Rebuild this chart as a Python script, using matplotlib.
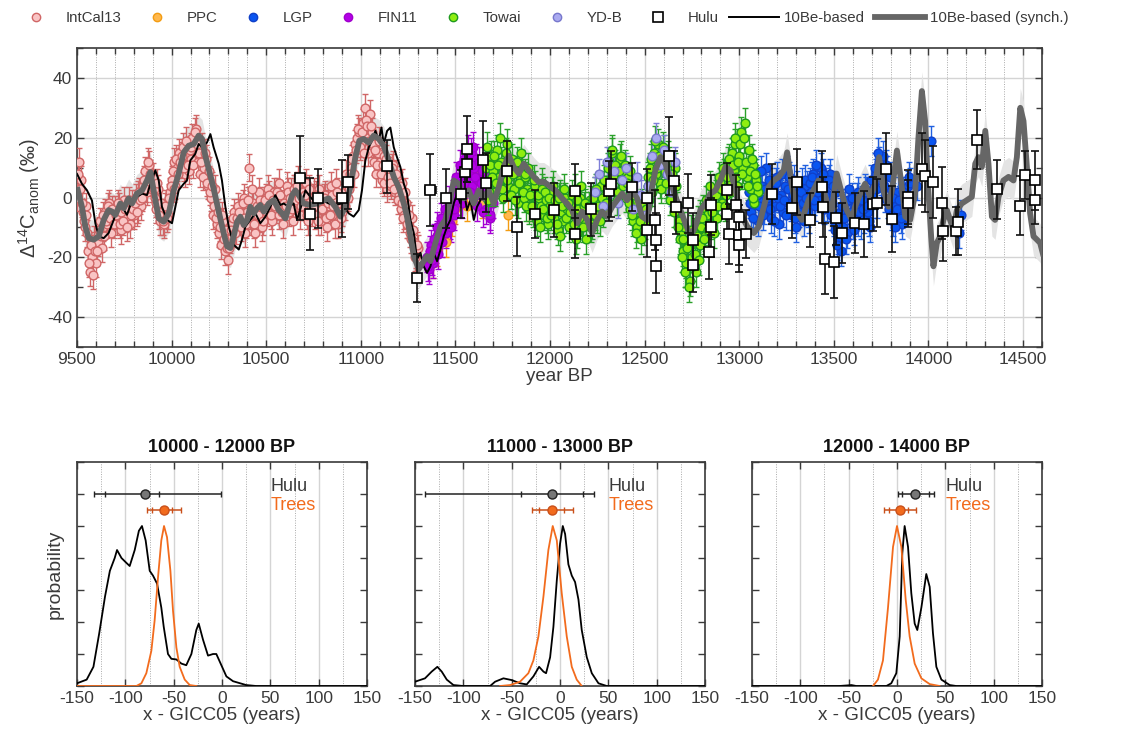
import numpy as np
import matplotlib
matplotlib.use("Agg")
import matplotlib.pyplot as plt
from matplotlib.lines import Line2D
from matplotlib.ticker import MultipleLocator, NullFormatter

plt.rcParams['font.family'] = ['Liberation Sans', 'DejaVu Sans']
plt.rcParams['mathtext.fontset'] = 'custom'
plt.rcParams['mathtext.rm'] = 'Liberation Sans'
plt.rcParams['mathtext.it'] = 'Liberation Sans'
plt.rcParams['axes.unicode_minus'] = False

# ---------------- data: top panel ----------------
intcal_years = np.arange(9500, 11301, 10)
intcal_vals = [0, 12, 6, -5, -10, -3, -18, -25, -20, -14,
               -22, -15, -8, -17, -10, -5, -9, -2, -12, -6,
               -4, -8, -3, -11, -6, -1, -7, -4, -9, -2,
               -6, 0, -4, 2, -3, 4, 9, 2, 11, 5,
               7, 0, -4, 3, -8, -5, -9, -2, -6, 2,
               6, 12, 4, 10, 15, 11, 17, 8, 14, 9,
               13, 20, 16, 23, 12, 8, 17, 10, 13, 4,
               6, 0, -6, 3, -9, -12, -16, -8, -18, -13,
               -21, -14, -9, -5, -11, -3, -8, -6, 0, -12,
               -5, 10, -8, -2, -12, -3, 2, -7, -10, -4,
               0, 3, -2, -8, 2, -4, 0, 5, -3, -9,
               0, 4, -5, 2, -8, 3, -2, 6, -6, 0,
               -3, 5, -8, 0, -5, 2, -6, -2, 3, -8,
               -4, 1, -10, -3, 4, -6, 0, 5, -9, -2,
               -5, 2, 8, 0, 5, 10, 14, 18, 20, 22,
               18, 25, 30, 20, 15, 28, 22, 12, 8, 15,
               12, 6, 14, 8, 3, 9, 4, 11, 2, 6,
               1, -4, 5, -6, -2, -9, -12, -7, -15, -19,
               -17]
intcal_years_b = np.arange(9505, 11296, 10)
intcal_vals_b = [8, 3, -2, -8, -6, -12, -22, -16, -26, -18,
                 -18, -11, -13, -6, -13, -8, -3, -7, -4, -9,
                 -6, -2, -9, -5, -8, -4, -10, -1, -6, -4,
                 -2, -5, 1, -1, 0, 6, 3, 12, 8, 3,
                 3, -2, 5, -6, -2, -8, -3, -7, 0, 4,
                 9, 3, 13, 8, 12, 14, 10, 19, 11, 16,
                 17, 11, 22, 18, 15, 12, 7, 15, 5, 9,
                 2, 4, -3, -7, -5, -10, -6, -14, -11, -17,
                 -17, -11, -7, -12, -7, -5, -10, -2, -7, -9,
                 -1, -6, 3, -9, -6, -6, -1, -3, -8, -1,
                 -5, 1, -6, -1, -3, 2, -6, 1, -5, -2,
                 -3, 2, 0, -4, 3, -1, 4, 0, -3, 2,
                 1, -6, 3, -3, 0, -3, 1, -8, -1, -4,
                 0, -7, -2, -6, 1, -3, -9, 2, -5, -7,
                 0, -3, 4, 3, 8, 13, 8, 16, 23, 17,
                 22, 15, 26, 24, 19, 24, 18, 16, 11, 19,
                 8, 11, 5, 13, 7, 5, 10, 3, 8, -1,
                 4, -2, -7, 2, -9, -6, -14, -11, -20, -16]
intcal_err = 4.5

ppc_years = [11380, 11400, 11420, 11450, 11480, 11500, 11520, 11560, 11600,
             11640, 11690, 11720, 11780, 11850, 11890]
ppc_vals = [-22, -18, -12, -15, -8, -4, 3, -3, 8, -2, 12, 5, -6, 2, -3]
ppc_err = 5

fin_years = np.arange(11350, 11701, 10)
fin_vals = [-20, -24, -16, -22, -18, -13, -19, -11, -15, -8,
            -12, -5, -9, -2, -6, 3, -1, 6, 2, 9,
            5, 12, 8, 15, 4, 10, 13, 6, 1, 9,
            3, -4, 7, -7, 0, -2]
fin_years_b = np.arange(11355, 11696, 10)
fin_vals_b = [-23, -18, -21, -14, -17, -10, -14, -7, -11, -4,
              -8, -1, -10, 1, -4, 7, 3, 11, -2, 13,
              8, 16, 2, 11, 17, 7, -3, 12, 5, -5,
              6, 0, 10, -6, 4]
fin_err = 5

towai_years = np.arange(11660, 13101, 10)
towai_vals = [10, -1, 6, 14,
              9, 2, 16, 7, 12, 0, 10, 18, 4, 8,
              13, 3, 9, -2, 6, 11, 0, 7, 3, -4,
              2, -5, 4, -8, 0, -3, 5, -6, -1, -9,
              -3, 2, -7, -2, -11, 1, -5, -8, 0, -4,
              -10, -2, -6, 3, -12, -4, 0, -8, -3, -14,
              -6, -1, -9, -4, 2, -7, -2, 4, -5, 1,
              6, 12, 3, 15, 8, 10, 2, 13, 5, 9,
              0, 7, -4, 3, -8, -2, -10, -5, -14, -6,
              -9, -3, 4, 10, 2, 15, 8, 18, 5, 12,
              16, 9, 3, 12, 6, 0, 10, -3, -8, -12,
              -18, -10, -22, -15, -28, -20, -12, -25, -8, -16,
              -10, -4, -13, -6, 0, -9, -3, 3, -7, 2,
              5, -2, 8, 1, 12, 6, 15, 9, 18, 4,
              14, 22, 10, 25, 7, 16, 3, 11, -2, 6,
              2]
towai_years_b = np.arange(11665, 13096, 10)
towai_vals_b = [17, 2, 11, 7,
                14, 5, 11, 20, 3, 9, 15, 6, 12, 1,
                8, -1, 12, 5, 15, 2, 8, -3, 10, 1,
                -3, 6, -6, 1, -10, 3, -4, 2, -7, 0,
                -6, 4, -1, -9, 0, -13, -3, 3, -7, -2,
                -5, 1, -9, -14, -1, -7, 4, -10, -2, -6,
                -3, -10, 0, -6, 3, -3, -8, 0, 6, -2,
                10, 4, 16, 7, 11, -1, 9, 14, 4, 11,
                5, -2, 9, -6, 1, -12, -4, -8, -2, -11,
                -4, 7, -1, 13, 6, 19, 10, 14, 3, 17,
                11, 5, 14, -1, 8, -5, 4, -10, -14, -20,
                -14, -25, -17, -30, -11, -23, -19, -13, -21, -6,
                -7, -14, -1, -11, 4, -5, -12, 1, -3, 7,
                3, 10, -3, 7, 13, 2, 11, 20, 7, 12,
                18, 8, 20, 12, 4, 9, 13, 0, 8, 4]
towai_err = 5

ydb_years = np.arange(12240, 12661, 20)
ydb_vals = [2, 8, -3, 12, 5, 9, -2, 6, 10, 3, -4, 7, 1, -6, 4, 14, 20, 11, 16, 8, 2, 12]
ydb_err = 5

lgp_years = list(np.arange(13050, 13901, 10)) + [13940, 14015, 14150, 14160, 14170]
lgp_vals = [2, -5, 6, -2, 8, -8, 0, 4, -4, 10,
            -1, 5, -7, 3, -3, 7, -9, 1, -5, 4,
            9, -2, 3, -6, 6, -10, 0, -4, 5, -8,
            -2, 4, -7, 2, 8, -3, 6, 0, 10, 3,
            -4, 5, 1, 8, -2, -8, 2, -14, -5, -18,
            -10, -2, -12, 3, -6, -9, -3, 0, -8, -4,
            -1, -7, 2, -5, -10, 1, 4, 8, -2, 12,
            6, 14, 0, 9, -4, 3, -8, -2, -6, 2,
            -5, -9, 1, -3, 4, 5,
            4, 19, -8, -12, -6]
lgp_years_b = np.arange(13055, 13896, 10)
lgp_vals_b = [-2, 4, -7, 5, 1, -3, 9, -6, 3, 0,
              6, -4, 2, -8, 5, 0, -3, 8, -1, -6,
              3, 7, -3, 1, -7, 4, -5, 2, -2, 6,
              0, -5, 5, 7, -1, 11, 2, 7, 4, 8,
              1, -3, 6, -6, 4, -11, -16, -7, -12, -3,
              -7, -14, -1, -5, 0, -11, -6, 2, -5, -9,
              -4, 3, -3, -8, 6, -2, 10, 3, 15, 7,
              10, 4, 11, -2, 7, -6, 0, -10, -4, -1,
              -7, 2, -4, 0, 7]
lgp_err = 5

hulu_years = [10679, 10732, 10772, 10902, 10934, 11139, 11299, 11368, 11452, 11527,
              11550, 11563, 11563, 11645, 11663, 11772, 11825, 11923, 12020, 12130,
              12132, 12215, 12314, 12323, 12432, 12511, 12511, 12552, 12560, 12560,
              12626, 12656, 12666, 12731, 12758, 12758, 12842, 12851, 12851, 12934,
              12934, 12948, 12983, 12999, 12999, 12999, 13036, 13172, 13277, 13304,
              13374, 13436, 13441, 13453, 13501, 13510, 13541, 13612, 13661, 13709,
              13726, 13774, 13806, 13894, 13894, 13964, 13982, 14026, 14070, 14079,
              14146, 14158, 14258, 14361, 14484, 14511, 14563, 14563]
hulu_vals = [6.6, -5.5, -0.3, -0.3, 5.2, 10.4, -27, 2.4, -0.3, 1.3,
             8.4, 16.3, 11.3, 12.5, 5.0, 8.8, -9.7, -5.4, -4.3, -12.1,
             2.2, -4, 2.2, 4.4, 3.5, -0.3, -11, -7.5, -14.1, -23,
             14, 5.5, -3.3, -2, -14.3, -22.6, -18.2, -2.5, -10, 2.4,
             -5.6, -12.1, -2.4, -6.4, -12.5, -15.8, -12.2, 1.3, -3.6, 5.2,
             -7.5, 3.5, -3.1, -20.4, -21.5, -7, -11.9, -8.6, -8.9, -2.3,
             -1.8, 9.6, -7.2, 0.2, -2, 9.6, 7.1, 5.2, -1.8, -11.3,
             -11.3, -8.1, 19.4, 2.7, -2.7, 7.4, 5.7, -0.7]
hulu_yerr = [14, 12, 10, 13, 9, 9, 8, 12, 10, 8,
             7, 11, 6, 13, 10, 10, 10, 8, 9, 8,
             9, 9, 10, 11, 8, 10, 9, 10, 9, 9,
             13, 10, 9, 10, 9, 9, 9, 10, 10, 9,
             8, 10, 10, 10, 10, 9, 8, 10, 10, 11,
             9, 12, 10, 12, 12, 9, 10, 10, 11, 9,
             8, 12, 11, 9, 8, 12, 12, 12, 12, 10,
             8, 11, 10, 10, 10, 8, 10, 8]
hulu_xerr = [28, 20, 12, 10, 15, 12, 10, 30, 10, 10,
             10, 12, 10, 12, 10, 10, 10, 10, 10, 10,
             10, 12, 10, 12, 10, 10, 10, 10, 10, 10,
             15, 10, 10, 10, 10, 10, 10, 10, 12, 12,
             10, 10, 10, 10, 10, 10, 10, 10, 10, 10,
             10, 10, 10, 18, 12, 10, 10, 12, 12, 12,
             10, 12, 12, 12, 10, 12, 12, 14, 12, 14,
             14, 12, 10, 12, 15, 10, 10, 10]

be_years = [9500, 9526, 9553, 9579, 9597, 9615, 9641, 9667, 9694, 9711, 9738, 9764,
            9791, 9817, 9844, 9870, 9888, 9914, 9932, 9949, 9976, 10002, 10020, 10037,
            10064, 10081, 10099, 10125, 10143, 10161, 10187, 10205, 10222, 10249, 10266,
            10284, 10302, 10328, 10355, 10372, 10390, 10416, 10443, 10469, 10496, 10522,
            10548, 10575, 10592, 10619, 10645, 10663, 10684, 10707, 10733, 10769, 10800,
            10830, 10865, 10901, 10936, 10962, 10989, 11006, 11024, 11042, 11059, 11077,
            11095, 11109, 11121, 11139, 11156, 11174, 11191, 11209, 11227, 11244, 11262,
            11280, 11297, 11315, 11332, 11350, 11368, 11385, 11403, 11421, 11438, 11456,
            11473, 11491, 11509, 11526, 11544, 11561, 11579, 11597, 11614, 11632]
be_vals = [7.9, 4.6, 2.4, -1, -8.6, -13, -13.6, -11.9, -7.5, -4.2, -3.1, -5.8,
           -0.9, 0.2, 1.3, 0.8, 4.6, 9.1, 5.7, -3.1, -7.5, -8.6, -3.1, 2.4,
           4.6, 5.7, 12.4, 14.6, 17.9, 16.8, 18.4, 21.2, 16.8, 11.3, 5.7,
           -3.1, -9.7, -15.8, -17.4, -14.1, -9.7, -7.5, -5.3, -8.6, -6.4, -3.1,
           0.8, -2.5, -2, -3.1, -2, -7.5, -3.1, 2.4, 0.2, -2.5, -1,
           -2, -2.5, -2, -5.3, -6.4, -4.2, 2.4, 12.4, 16.8, 19, 22.3,
           19, 23.4, 17.9, 22.3, 23.4, 16.8, 13.5, 10.2, 4.6, 1.3, -7.5,
           -11.9, -20.7, -18.5, -23, -25.2, -23, -18.5, -21.3, -17.4, -13, -9.7,
           -7.5, -2, 1.3, -2, 2.4, -4.2, -0.9, -7.5, -3.1, -0.9]

syn_years = [9500, 9526, 9544, 9562, 9588, 9615, 9641, 9667, 9685, 9703, 9729, 9747,
             9773, 9791, 9817, 9844, 9870, 9888, 9905, 9932, 9958, 9985, 10011, 10037,
             10064, 10090, 10117, 10143, 10161, 10178, 10196, 10222, 10249, 10275, 10293,
             10311, 10328, 10346, 10363, 10381, 10399, 10416, 10434, 10451, 10469, 10487,
             10513, 10540, 10566, 10584, 10601, 10619, 10637, 10654, 10672, 10698, 10733,
             10769, 10800, 10830, 10865, 10892, 10918, 10945, 10971, 10992, 11015, 11042,
             11068, 11095, 11121, 11147, 11174, 11200, 11227, 11244, 11262, 11280, 11306,
             11332, 11350, 11368, 11394, 11421, 11447, 11473, 11491, 11517, 11544, 11570,
             11597, 11623, 11650, 11676, 11702, 11729, 11755, 11782, 11808, 11835, 11861,
             11887, 11914, 11940, 11967, 11993, 12028, 12064, 12090, 12116, 12143, 12169,
             12196, 12222, 12249, 12275, 12301, 12328, 12354, 12381, 12407, 12434, 12460,
             12486, 12513, 12539, 12557, 12583, 12610, 12636, 12663, 12689, 12715, 12742,
             12768, 12795, 12821, 12848, 12874, 12900, 12927, 12953, 12980, 13006, 13042,
             13077, 13103, 13130, 13156, 13182, 13209, 13235, 13253, 13279, 13306, 13332,
             13348, 13366, 13392, 13418, 13445, 13471, 13489, 13515, 13542, 13568, 13595,
             13612, 13639, 13665, 13692, 13718, 13739, 13762, 13789, 13810, 13833, 13859,
             13877, 13903, 13929, 13947, 13965, 13982, 13996, 14014, 14026, 14044, 14062,
             14079, 14097, 14114, 14132, 14150, 14176, 14203, 14229, 14247, 14264, 14282,
             14300, 14317, 14335, 14352, 14370, 14396, 14423, 14449, 14467, 14485, 14502,
             14520, 14537, 14555, 14573, 14590, 14608]
syn_vals = [3.5, -3.1, -9.7, -13.6, -14.1, -13, -7.5, -4.2, -4.7, -5.8, -2, -3.6,
            -0.3, -2, 1.3, 2.4, 5.7, 8.5, 2.4, -7, -8.1, -5.3, 2.4, 7.9,
            15.1, 17.3, 17.9, 20.7, 19.6, 14, 9.6, 3, -4.7, -11.9, -16.3,
            -16.9, -13, -8.1, -6.4, -9.2, -7.5, -3.1, -5.3, -3.6, -2.5, -4.7,
            -2, -0.9, -4.2, -5.3, -7, -3.1, 0.8, 2.4, 0.8, -2, -2.5,
            -2, -1, -0.3, -3.1, -6.4, -3.1, 3.5, 13.5, 19, 19.6, 18.4,
            20.7, 19.6, 17.3, 12.4, 6.9, 3.5, -2, -6.4, -13, -19.6, -24,
            -21.3, -19.6, -21.3, -15.2, -9.7, -7.5, -0.9, 5.7, 4.6, -0.3, 2.4,
            -2, 2.4, -0.3, 2.4, -2, 3.5, 10.2, 14, 10.2, 8, 11.3,
            9.1, 6.9, 5.2, 5.2, 4.1, 2.4, -0.3, -2, -4.2, -8.6, -4.7,
            -7.5, -11.9, -7.5, -4.7, -6.4, -3.1, -0.9, 1.3, -0.9, 2.4, -0.3,
            -6.4, -7.5, 3.5, 9.1, 13.5, 11.3, 5.7, 0.2, -4.2, -8.6, -13,
            -9.7, -4.2, -2, 1.3, 2.4, 5.7, 10.2, 9.1, 2.4, -5.3, -9.7,
            -11.9, -9.7, -3.1, 3.5, 5.7, 6.9, 9.1, 15.1, 3.5, -4.7, -7.5,
            -4.2, -0.9, 2.4, 5.7, 2.4, -3.1, -4.2, 8, 1.3, -4.2, -7.5,
            -3.1, 1.3, 4.6, 0.2, 4.6, 13.5, 2.4, -3.1, 3.5, 15.7, 3.5,
            -6.4, -7.5, 1.3, 20.1, 35.6, 25.6, 5.7, -13, -23, -15.2, -13,
            -7.5, -4.2, -7.5, -10.8, -4.2, -2, -0.9, 0.2, 11.3, 13.5, 10.2,
            22.3, 11.3, -6.4, -7.5, 0.2, 5.7, 6.9, 5.7, 13.5, 30, 25.6,
            10.2, -5.3, -13, -14.1, -15.2, -19.6]
syn_band = 6.5

# ---------------- data: bottom panels ----------------
panel_titles = ["10000 - 12000 BP", "11000 - 13000 BP", "12000 - 14000 BP"]

hulu_pdf_x = [
    [-150, -140, -133, -127, -121, -116, -111, -108.6, -104, -99, -95.5, -90.3, -86, -82.8,
     -79, -74.8, -71.4, -67.2, -62.8, -60.3, -55.9, -52.4, -47.2, -42, -37, -31.7, -26.6,
     -24.1, -19.7, -14.5, -9.3, -5.9, -0.7, 4.5, 11.4, 25, 35.5, 150],
    [-150, -139.7, -132.8, -126.9, -122.4, -117.2, -110.3, -100, -72.4, -67.2, -58.6, -50,
     -41.4, -34.5, -27.6, -21.7, -17.2, -14.5, -10.3, -6.9, -3.4, 0, 2.8, 5.2, 8.6, 12.1,
     15.5, 19, 22.4, 27.6, 32.8, 39.7, 48.3, 150],
    [-150, -60, -50.7, -47.2, -42, -11, -5.9, -0.7, 2.8, 5.5, 7.9, 11.4, 14.8, 18.3, 21,
     25.2, 30.3, 33.8, 37.2, 40.7, 45.9, 54.5, 61.4, 150],
]
hulu_pdf_y = [
    [0.017, 0.04, 0.12, 0.33, 0.56, 0.72, 0.80, 0.85, 0.80, 0.77, 0.75, 0.85, 0.97, 1.0,
     0.91, 0.72, 0.69, 0.64, 0.49, 0.37, 0.20, 0.17, 0.166, 0.14, 0.13, 0.20, 0.35,
     0.39, 0.29, 0.19, 0.20, 0.20, 0.13, 0.06, 0.03, 0.006, 0.0, 0.0],
    [0.027, 0.048, 0.09, 0.12, 0.09, 0.04, 0.006, 0.0, 0.0, 0.027, 0.048, 0.037,
     0.017, 0.01, 0.06, 0.12, 0.09, 0.08, 0.18, 0.37, 0.66, 0.89, 1.0, 0.95, 0.76, 0.69,
     0.65, 0.54, 0.35, 0.18, 0.08, 0.017, 0.0, 0.0],
    [0.0, 0.0, 0.004, 0.006, 0.0, 0.0, 0.017, 0.08, 0.31, 0.83, 1.0, 0.87, 0.58, 0.39, 0.35,
     0.49, 0.70, 0.62, 0.33, 0.12, 0.04, 0.006, 0.0, 0.0],
]
trees_pdf_x = [
    [-150, -88.6, -83.4, -78.3, -73.1, -69.7, -66.2, -62.8, -60, -56.9, -53.4, -50.7,
     -47.2, -43.8, -38.6, -33.4, -26.6],
    [-62, -51.7, -41.4, -32.8, -27.6, -22.4, -17.2, -12.1, -7.6, -3.4, 1.7, 6.9, 12.1,
     17.2, 22.4],
    [-24.8, -19.7, -14.5, -9.3, -4.1, 0, 4.5, 9, 13.1, 18.3, 25.2, 33.8, 44.1],
]
trees_pdf_y = [
    [0.0, 0.0, 0.017, 0.08, 0.22, 0.41, 0.68, 0.91, 1.0, 0.93, 0.72, 0.47,
     0.24, 0.12, 0.04, 0.006, 0.0],
    [0.0, 0.006, 0.027, 0.08, 0.16, 0.31, 0.56, 0.85, 1.0, 0.91, 0.58, 0.31, 0.12,
     0.04, 0.0],
    [0.0, 0.04, 0.16, 0.49, 0.87, 1.0, 0.87, 0.54, 0.31, 0.14, 0.048, 0.012, 0.0],
]
# summary: centre, outer low, inner low, inner high, outer high
hulu_summary = [(-80, -132, -121, -65, -1), (-8, -140, -40, 24, 35), (19, 1, 5, 33, 38)]
trees_summary = [(-60, -78, -72, -52, -42), (-8, -29, -22, 4, 13), (3, -13, -8, 11, 20)]

# ---------------- styling ----------------
TXT = '#3a3a3a'
GRIDC = '#d4d4d4'

fig = plt.figure(figsize=(11.34, 7.33), dpi=100)

def style_axes(ax):
    for s in ax.spines.values():
        s.set_color('#3a3a3a')
        s.set_linewidth(1.2)
    ax.tick_params(which='both', direction='in', top=True, right=True,
                   colors='#3a3a3a', labelcolor=TXT, labelsize=12.5)
    ax.tick_params(which='major', length=5, width=1)
    ax.tick_params(which='minor', length=4, width=1)

# ---- top panel ----
ax = fig.add_axes([0.0679, 0.5266, 0.8510, 0.4079])
ax.set_xlim(9500, 14600)
ax.set_ylim(-50, 50)
ax.xaxis.set_major_locator(MultipleLocator(500))
ax.xaxis.set_minor_locator(MultipleLocator(100))
ax.yaxis.set_major_locator(MultipleLocator(20))
ax.yaxis.set_minor_locator(MultipleLocator(10))
ax.grid(which='major', color=GRIDC, lw=1.0, zorder=0)
ax.grid(which='minor', axis='x', color='#aaaaaa', ls=(0, (1, 1.5)), lw=0.7, zorder=0)
ax.set_axisbelow(True)
style_axes(ax)

sy = np.array(syn_vals)
ax.fill_between(syn_years, sy - syn_band, sy + syn_band, color='#e4e4e4', lw=0, zorder=1)

def errpts(x, y, e, mfc, mec, ecol, ms=6.3, z=3):
    ax.errorbar(x, y, yerr=e, fmt='o', ms=ms, mfc=mfc, mec=mec, mew=1.0,
                ecolor=ecol, elinewidth=1.0, capsize=2.2, capthick=1.0, zorder=z)

errpts(intcal_years, intcal_vals, intcal_err, '#f9c4c4', '#d06666', '#d06666')
errpts(intcal_years_b, intcal_vals_b, intcal_err, '#f9c4c4', '#d06666', '#d06666')
errpts(ppc_years, ppc_vals, ppc_err, '#ffb84d', '#f39c12', '#f39c12')
errpts(fin_years, fin_vals, fin_err, '#b300e6', '#a000cc', '#a400d4')
errpts(fin_years_b, fin_vals_b, fin_err, '#b300e6', '#a000cc', '#a400d4')
errpts(towai_years, towai_vals, towai_err, '#8fee10', '#1f9a1f', '#2aa02a', z=3.2)
errpts(towai_years_b, towai_vals_b, towai_err, '#8fee10', '#1f9a1f', '#2aa02a', z=3.2)
errpts(ydb_years, ydb_vals, ydb_err, '#aaaaf0', '#7777cc', '#7f7fd8', z=3.3)
errpts(lgp_years, lgp_vals, lgp_err, '#0a55f0', '#1040c8', '#2060e0', z=3.1)
errpts(lgp_years_b, lgp_vals_b, lgp_err, '#0a55f0', '#1040c8', '#2060e0', z=3.1)

ax.plot(be_years, be_vals, color='black', lw=1.4, zorder=5)
ax.plot(syn_years, syn_vals, color='#666666', lw=4.2, zorder=6, solid_capstyle='butt')

ax.errorbar(hulu_years, hulu_vals, yerr=hulu_yerr, xerr=hulu_xerr, fmt='s', ms=7.5,
            mfc='white', mec='black', mew=1.2, ecolor='#111111', elinewidth=1.2,
            capsize=3, capthick=1.2, zorder=7)

ax.set_xlabel('year BP', fontsize=13.5, color=TXT, labelpad=1)
ax.set_ylabel(r'$\Delta^{14}\mathregular{C}_{\mathregular{anom}}$ (‰)', fontsize=14.5,
              color=TXT, labelpad=4)

# legend
handles = [
    Line2D([], [], ls='none', marker='o', ms=6, mfc='#f9c4c4', mec='#d06666'),
    Line2D([], [], ls='none', marker='o', ms=6, mfc='#ffb84d', mec='#f39c12'),
    Line2D([], [], ls='none', marker='o', ms=6, mfc='#0a55f0', mec='#1040c8'),
    Line2D([], [], ls='none', marker='o', ms=6, mfc='#b300e6', mec='#a000cc'),
    Line2D([], [], ls='none', marker='o', ms=6, mfc='#8fee10', mec='#1f9a1f'),
    Line2D([], [], ls='none', marker='o', ms=6, mfc='#aaaaf0', mec='#7777cc'),
    Line2D([], [], ls='none', marker='s', ms=7, mfc='white', mec='black', mew=1.2),
    Line2D([], [], color='black', lw=1.4),
    Line2D([], [], color='#666666', lw=4.2),
]
labels = ['IntCal13', 'PPC', 'LGP', 'FIN11', 'Towai', 'YD-B', 'Hulu', '10Be-based',
          '10Be-based (synch.)']
fig.legend(handles, labels, loc='center left', bbox_to_anchor=(0.003, 0.975), ncol=9,
           frameon=False, fontsize=10.8, handlelength=3.3, handletextpad=0.35,
           columnspacing=0.7, borderpad=0, labelcolor=TXT)

# ---- bottom panels ----
lefts = [0.0679, 0.3660, 0.6631]
for i in range(3):
    b = fig.add_axes([lefts[i], 0.0641, 0.2558, 0.3056])
    b.set_xlim(-150, 150)
    b.set_ylim(0, 1.4)
    b.xaxis.set_major_locator(MultipleLocator(50))
    b.xaxis.set_minor_locator(MultipleLocator(25))
    b.yaxis.set_major_locator(MultipleLocator(0.2))
    b.yaxis.set_major_formatter(NullFormatter())
    b.grid(which='major', axis='x', color=GRIDC, lw=1.0)
    b.grid(which='minor', axis='x', color='#aaaaaa', ls=(0, (1, 1.5)), lw=0.7)
    b.set_axisbelow(True)
    style_axes(b)
    b.tick_params(which='minor', length=0)
    b.plot(hulu_pdf_x[i], hulu_pdf_y[i], color='black', lw=1.3, zorder=3)
    b.plot(trees_pdf_x[i], trees_pdf_y[i], color='#f26b1d', lw=1.3, zorder=3)
    for summ, yy, col, mcol in [(hulu_summary[i], 1.2, '#222222', '#777777'),
                                (trees_summary[i], 1.1, '#c9501a', '#f26b1d')]:
        c, lo, ilo, ihi, hi = summ
        b.errorbar([c], [yy], xerr=[[c - lo], [hi - c]], fmt='o', ms=6.5, mfc=mcol,
                   mec=col, mew=1.0, ecolor=col, elinewidth=1.1, capsize=2.5,
                   capthick=1.0, zorder=4)
        b.plot([ilo, ihi], [yy, yy], ls='none', marker='|', ms=5, mew=1.0, color=col,
               zorder=4)
    b.text(50, 1.25, 'Hulu', fontsize=13, color=TXT, va='center')
    b.text(50, 1.13, 'Trees', fontsize=13, color='#f26b1d', va='center')
    b.set_title(panel_titles[i], fontsize=13, fontweight='bold', color='#111111', pad=7)
    b.set_xlabel('x - GICC05 (years)', fontsize=13.5, color=TXT, labelpad=1)
    if i == 0:
        b.set_ylabel('probability', fontsize=14, color=TXT, labelpad=6)

fig.savefig('out.png', dpi=100)
